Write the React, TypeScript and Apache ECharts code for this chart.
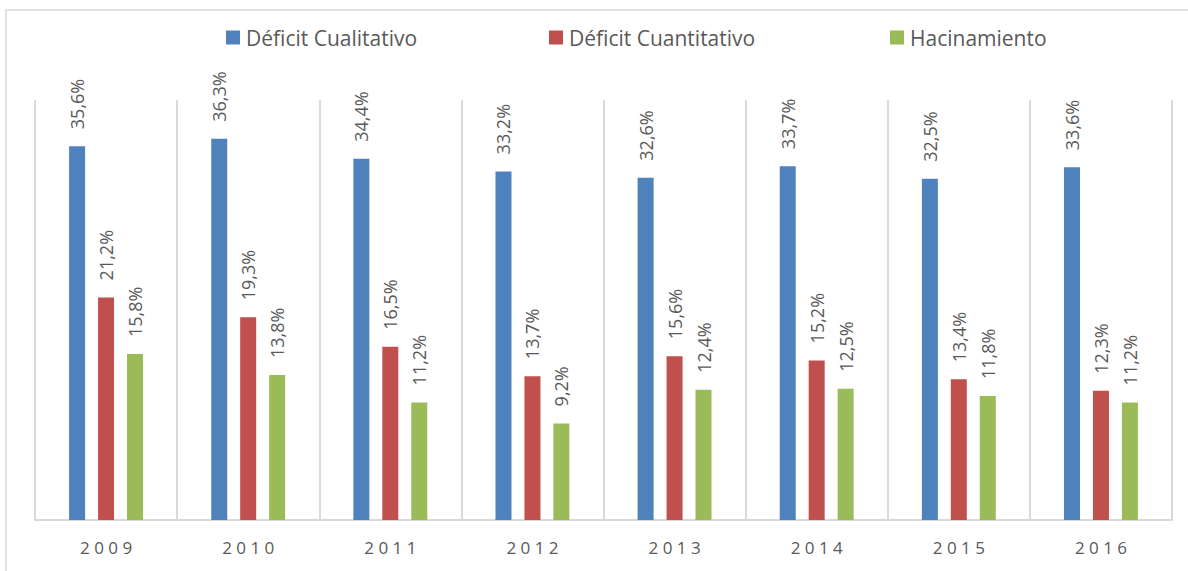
import React, { useEffect, useRef } from "react";
import * as echarts from "echarts";

const years = ["2009", "2010", "2011", "2012", "2013", "2014", "2015", "2016"];
const seriesNames = ["Déficit Cualitativo", "Déficit Cuantitativo", "Hacinamiento"];
const cualitativo = [35.6, 36.3, 34.4, 33.2, 32.6, 33.7, 32.5, 33.6];
const cuantitativo = [21.2, 19.3, 16.5, 13.7, 15.6, 15.2, 13.4, 12.3];
const hacinamiento = [15.8, 13.8, 11.2, 9.2, 12.4, 12.5, 11.8, 11.2];
const colors = ["#4F81BD", "#C0504D", "#9BBB59"];

const FONT = "'Open Sans', sans-serif";
const TEXT = "#595959";

export default function App() {
  const ref = useRef<HTMLDivElement>(null);
  useEffect(() => {
    if (!ref.current) return;
    const chart = echarts.init(ref.current, undefined, { renderer: "svg" });
    const data = [cualitativo, cuantitativo, hacinamiento];
    const legendLefts = [226, 549, 890];
    chart.setOption({
      animation: false,
      backgroundColor: "#ffffff",
      graphic: [
        {
          type: "rect",
          shape: { x: 6, y: 10, width: 1200, height: 600 },
          style: { fill: "none", stroke: "#d9d9d9", lineWidth: 1.5 },
          silent: true,
        },
      ],
      legend: seriesNames.map((n, i) => ({
        data: [n],
        left: legendLefts[i],
        top: 27,
        padding: 0,
        itemWidth: 14,
        itemHeight: 14,
        itemGap: 0,
        icon: "rect",
        textStyle: { fontFamily: FONT, fontSize: 21, color: TEXT, padding: [0, 0, 0, 1] },
      })),
      grid: { left: 35, right: 16, top: 100, bottom: 51, containLabel: false },
      xAxis: {
        type: "category",
        data: years,
        axisLine: { lineStyle: { color: "#d9d9d9", width: 2 } },
        axisTick: { show: false },
        splitLine: { show: true, lineStyle: { color: "#d9d9d9", width: 2 } },
        axisLabel: {
          fontFamily: FONT,
          fontSize: 17,
          color: TEXT,
          margin: 19,
          formatter: (v: string) => v.split("").join(" "),
        },
      },
      yAxis: {
        type: "value",
        min: 0,
        max: 40,
        show: false,
        splitLine: { show: false },
      },
      series: seriesNames.map((n, i) => ({
        name: n,
        type: "bar",
        data: data[i],
        barWidth: 16,
        barGap: "81%",
        itemStyle: { color: colors[i] },
        label: {
          show: true,
          position: "top",
          rotate: 90,
          align: "left",
          verticalAlign: "middle",
          distance: 17,
          fontFamily: FONT,
          fontSize: 18,
          color: TEXT,
          formatter: (p: any) => p.value.toFixed(1).replace(".", ",") + "%",
        },
      })),
    });
    return () => chart.dispose();
  }, []);
  return <div ref={ref} style={{ width: 1188, height: 571, position: "absolute", left: 0, top: 0 }} />;
}
